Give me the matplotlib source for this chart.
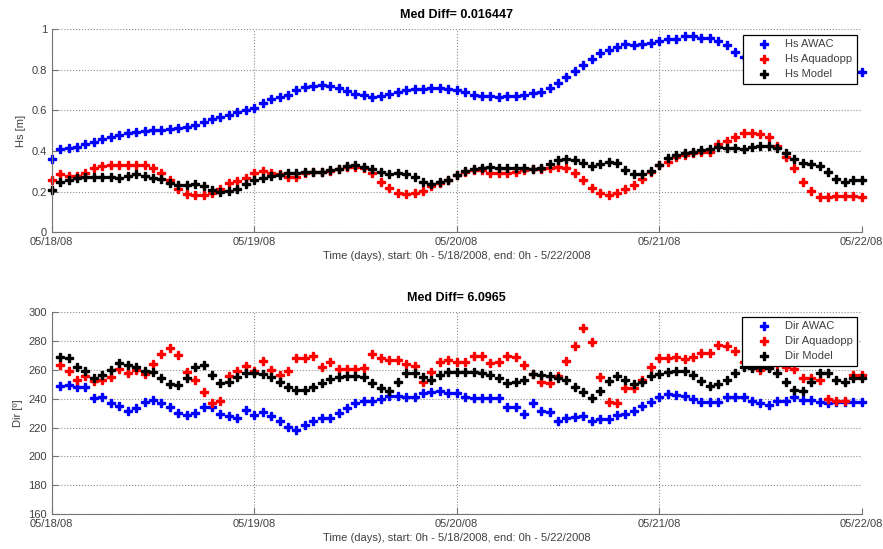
import numpy as np
import pandas as pd
import matplotlib
matplotlib.use('Agg')
import matplotlib.pyplot as plt
import matplotlib.dates as mdates

plt.rcParams['font.family'] = ['Liberation Sans', 'DejaVu Sans']

# hourly time stamps
t_hs = pd.date_range('2008-05-18 00:00', '2008-05-22 00:00', freq='h')
t_dir = pd.date_range('2008-05-18 01:00', '2008-05-22 00:00', freq='h')

hs_awac = [0.36, 0.41, 0.417, 0.42, 0.435, 0.447, 0.458, 0.471, 0.48, 0.49,
           0.494, 0.50, 0.504, 0.506, 0.507, 0.514, 0.52, 0.527, 0.543, 0.558,
           0.57, 0.58, 0.59, 0.60, 0.614, 0.635, 0.657, 0.668, 0.678, 0.70,
           0.714, 0.72, 0.726, 0.72, 0.709, 0.696, 0.681, 0.676, 0.668, 0.673,
           0.68, 0.691, 0.70, 0.704, 0.706, 0.713, 0.711, 0.706, 0.70, 0.69,
           0.678, 0.672, 0.672, 0.668, 0.672, 0.673, 0.675, 0.685, 0.693, 0.709,
           0.734, 0.764, 0.796, 0.822, 0.852, 0.885, 0.90, 0.911, 0.926, 0.923,
           0.926, 0.934, 0.944, 0.954, 0.954, 0.967, 0.967, 0.959, 0.956, 0.944,
           0.923, 0.89, 0.862, 0.84, 0.83, 0.82, 0.81, 0.80, 0.80, 0.79,
           0.79, 0.79, 0.79, 0.79, 0.79, 0.79, 0.79]
hs_aqua = [0.258, 0.286, 0.279, 0.279, 0.29, 0.315, 0.328, 0.333, 0.33, 0.332,
           0.333, 0.33, 0.318, 0.29, 0.256, 0.215, 0.187, 0.184, 0.182, 0.195,
           0.215, 0.241, 0.253, 0.266, 0.29, 0.302, 0.294, 0.287, 0.271, 0.272,
           0.29, 0.299, 0.299, 0.302, 0.31, 0.32, 0.323, 0.315, 0.29, 0.25,
           0.217, 0.195, 0.187, 0.192, 0.204, 0.23, 0.245, 0.258, 0.282, 0.299,
           0.305, 0.307, 0.29, 0.29, 0.294, 0.299, 0.307, 0.31, 0.31, 0.315,
           0.323, 0.319, 0.294, 0.259, 0.22, 0.195, 0.184, 0.192, 0.212, 0.233,
           0.261, 0.299, 0.332, 0.348, 0.373, 0.381, 0.389, 0.397, 0.397, 0.435,
           0.452, 0.471, 0.488, 0.491, 0.484, 0.471, 0.427, 0.373, 0.315, 0.25,
           0.205, 0.176, 0.176, 0.179, 0.179, 0.179, 0.176]
hs_model = [0.209, 0.246, 0.256, 0.269, 0.274, 0.274, 0.274, 0.274, 0.269, 0.277,
            0.287, 0.279, 0.269, 0.261, 0.241, 0.232, 0.233, 0.236, 0.23, 0.209,
            0.197, 0.205, 0.215, 0.236, 0.258, 0.266, 0.277, 0.284, 0.29, 0.294,
            0.296, 0.296, 0.299, 0.307, 0.314, 0.327, 0.332, 0.323, 0.31, 0.296,
            0.286, 0.29, 0.287, 0.274, 0.25, 0.236, 0.25, 0.258, 0.282, 0.304,
            0.31, 0.315, 0.32, 0.319, 0.319, 0.319, 0.315, 0.314, 0.315, 0.335,
            0.356, 0.36, 0.356, 0.342, 0.326, 0.335, 0.348, 0.34, 0.307, 0.286,
            0.286, 0.302, 0.332, 0.365, 0.381, 0.389, 0.397, 0.406, 0.41, 0.419,
            0.417, 0.414, 0.409, 0.419, 0.427, 0.427, 0.417, 0.389, 0.36, 0.34,
            0.337, 0.328, 0.296, 0.263, 0.25, 0.258, 0.258]

dir_awac = [248.6, 249.7, 247.9, 247.9, 240.3, 241, 236.8, 235.2, 231.7, 233.3,
            238, 239.4, 237.3, 234, 230.1, 229, 229.9, 234.5, 234, 229.2,
            227.8, 226.7, 232.2, 229, 231, 228, 224.3, 220.6, 218.3, 221.8,
            224.3, 226.9, 226.9, 229.9, 233.6, 237.3, 238.7, 238.7, 240, 242.1,
            242.1, 241, 241, 243.7, 244.4, 245.1, 244, 244, 241, 240.3,
            240.3, 240.3, 240.3, 234, 234, 229.4, 236.8, 231.3, 230.6, 224.3,
            226.7, 227.6, 228.3, 224.8, 226, 225.7, 228.7, 229.4, 231.7, 235.2,
            238, 241.4, 243.3, 242.8, 242.1, 239.8, 238, 238, 237.5, 241,
            241.4, 241, 238.7, 237.1, 235.9, 238.7, 238.7, 241.4, 239.4, 239.4,
            237.5, 237.1, 237.5, 237.5, 237.5, 237.5]
dir_aqua = [263.4, 259.4, 253, 256, 252.5, 253.2, 255.3, 260.6, 257.8, 260.1,
            257.1, 263.8, 271, 275.2, 270.3, 258.8, 253, 244.4, 236.8, 238.6,
            255.5, 259, 262.4, 259.4, 265.9, 260.1, 256.7, 259, 268, 268,
            269.4, 262.2, 265.2, 260.6, 260.6, 260.6, 261.3, 271, 268, 266.8,
            267.1, 264.1, 262.9, 251.4, 258.8, 265.2, 266.8, 265.2, 265.7, 269.8,
            269.4, 264.8, 265.2, 269.4, 269.1, 263.4, 257, 251.4, 250.9, 256,
            265.9, 276.3, 289, 279.5, 254.8, 238, 237.1, 247.2, 247.2, 253,
            261.8, 268, 268, 268.7, 267.5, 268.7, 271.5, 271.7, 277.2, 276.3,
            273.3, 265.2, 262, 260, 262, 264, 261.8, 260.6, 254.1, 254.1,
            253, 239.8, 238.7, 238.7, 256.7, 256.7]
dir_model = [268.7, 268.2, 262.2, 259, 254.4, 256.4, 259.9, 264.8, 263.4, 261.8,
             259.4, 258.3, 254.1, 250.2, 249.5, 254.4, 262.2, 263.4, 256.7, 250.9,
             251.8, 255.3, 257.8, 257.6, 257.1, 255.3, 251.4, 248.4, 246.1, 246.3,
             248.4, 250.9, 253.7, 254.8, 255.8, 256, 254.8, 250.9, 247.4, 245.1,
             251.4, 257.8, 257.8, 254.8, 253, 256.7, 258.3, 258.3, 258.3, 258.3,
             257.8, 256.4, 254.1, 250.7, 251.4, 253, 257.1, 256.7, 256, 254.1,
             253, 248.4, 244.4, 240.3, 245.1, 252.5, 256, 253, 250.2, 251.8,
             256, 257.1, 258.8, 259.4, 259, 256.4, 252.5, 249, 250.2, 253.2,
             257.8, 261.8, 261.3, 261.8, 261.3, 257.8, 251.4, 246.3, 245.1, 251.8,
             257.6, 257.6, 253, 251.4, 254.4, 254.4]

txt = '#404040'
fig = plt.figure(figsize=(8.83, 5.49), dpi=100)
ax1 = fig.add_axes([0.0586, 0.5769, 0.9173, 0.3698])
ax2 = fig.add_axes([0.0586, 0.0638, 0.9173, 0.3674])


def setup(ax, title, ylabel, yticks, ylabels):
    ax.set_xlim(t_hs[0], t_hs[-1])
    ax.set_ylim(yticks[0], yticks[-1])
    ax.set_yticks(yticks, ylabels)
    ax.xaxis.set_major_locator(mdates.DayLocator())
    ax.xaxis.set_major_formatter(mdates.DateFormatter('%m/%d/%y'))
    for s in ['top', 'right']:
        ax.spines[s].set_visible(False)
    for s in ['left', 'bottom']:
        ax.spines[s].set_color('0.45')
    ax.tick_params(direction='in', length=4, color='0.45', labelcolor=txt,
                   labelsize=8)
    ax.grid(True, ls=':', color='0.55', lw=0.8)
    ax.set_axisbelow(True)
    ax.set_title(title, fontsize=9, fontweight='bold', pad=8)
    ax.set_xlabel('Time (days), start: 0h - 5/18/2008, end: 0h - 5/22/2008',
                  fontsize=8, color=txt, labelpad=3)
    ax.set_ylabel(ylabel, fontsize=8, color=txt, labelpad=4)


def series(ax, t, vals, color, label):
    ax.plot(t, vals, ls='none', marker='P', ms=6, mew=1.0, color=color,
            clip_on=False, label=label)


series(ax1, t_hs, hs_awac, 'b', 'Hs AWAC')
series(ax1, t_hs, hs_aqua, 'r', 'Hs Aquadopp')
series(ax1, t_hs, hs_model, 'k', 'Hs Model')
setup(ax1, 'Med Diff= 0.016447', 'Hs [m]', [0, 0.2, 0.4, 0.6, 0.8, 1],
      ['0', '0.2', '0.4', '0.6', '0.8', '1'])

series(ax2, t_dir, dir_awac, 'b', 'Dir AWAC')
series(ax2, t_dir, dir_aqua, 'r', 'Dir Aquadopp')
series(ax2, t_dir, dir_model, 'k', 'Dir Model')
yt = list(range(160, 301, 20))
setup(ax2, 'Med Diff= 6.0965', 'Dir [º]', yt, [str(v) for v in yt])

for ax, ytop in [(ax1, 1 - 35 / 549), (ax2, 1 - 317 / 549)]:
    leg = ax.legend(loc='upper right', bbox_to_anchor=(857 / 883, ytop),
                    bbox_transform=fig.transFigure, borderaxespad=0,
                    fancybox=False, edgecolor='k', framealpha=1, fontsize=8,
                    handlelength=3, handletextpad=0.4, labelspacing=0.45,
                    borderpad=0.4, labelcolor=txt)
    leg.get_frame().set_linewidth(0.9)
    leg.set_zorder(10)

fig.savefig('out.png', dpi=100)
